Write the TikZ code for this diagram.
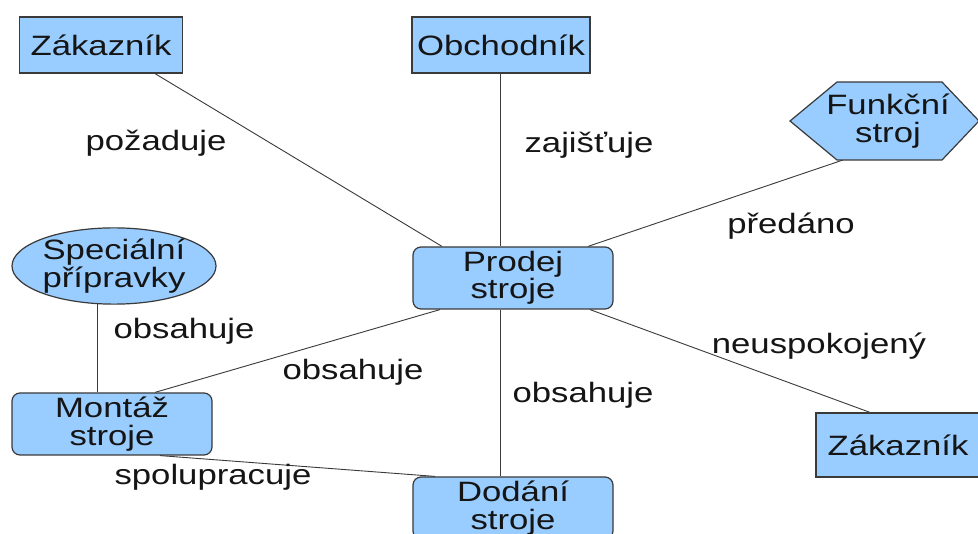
\documentclass[tikz,border=0pt]{standalone}
\usepackage{fontspec}
\setmainfont{Liberation Sans}
\usepackage{graphicx}
\usetikzlibrary{shapes.geometric}
\pgfdeclarelayer{background}
\pgfsetlayers{background,main}
\definecolor{boxfill}{HTML}{99CCFF}
\definecolor{boxline}{HTML}{3A3A3A}
\definecolor{txt}{HTML}{151515}
% wide, Arial-like lettering
\newcommand\wtxt[1]{\scalebox{1.24}[1]{#1}}
\begin{document}
\begin{tikzpicture}[x=1pt,y=-1pt,
  lettering/.style={font=\fontsize{28}{27.5}\selectfont, text=txt},
  shape base/.style={lettering, draw=boxline, fill=boxfill, line width=1.2pt,
                     inner sep=0pt, align=center},
  plainbox/.style={shape base, rectangle},
  roundbox/.style={shape base, rectangle, rounded corners=8pt,
                   minimum width=200pt, minimum height=62pt},
  ovalbox/.style={shape base, ellipse},
  rel/.style={lettering, inner sep=0pt},
  link/.style={draw=boxline, line width=0.9pt}]
\clip (0,0) rectangle (978,534);

% entities
\node[plainbox, minimum width=163pt, minimum height=56pt] (zak1) at (101,45) {\wtxt{Zákazník}};
\node[plainbox, minimum width=178pt, minimum height=56pt] (obch) at (501,45) {\wtxt{Obchodník}};
\draw[draw=boxline, fill=boxfill, line width=1.2pt]
  (790,121) -- (837,82) -- (942,82) -- (979,121) -- (942,160) -- (837,160) -- cycle;
\node[lettering, align=center, inner sep=0pt] (funk) at (888,121) {\wtxt{Funkční}\\\wtxt{stroj}};
\coordinate (funkb) at (843,160);
\node[roundbox] (prodej) at (513,278) {\wtxt{Prodej}\\\wtxt{stroje}};
\node[ovalbox, minimum width=204pt, minimum height=73pt] (spec) at (114,266) {\wtxt{Speciální}\\\wtxt{přípravky}};
\node[roundbox] (mont) at (112,424) {\wtxt{Montáž}\\\wtxt{stroje}};
\node[roundbox] (dod) at (513,508) {\wtxt{Dodání}\\\wtxt{stroje}};
\node[plainbox, minimum width=164pt, minimum height=64pt] (zak2) at (898,445) {\wtxt{Zákazník}};

% relationship names
\node[rel] (l1) at (156,143) {\wtxt{požaduje}};
\node[rel] (l2) at (589,145) {\wtxt{zajišťuje}};
\node[rel] (l3) at (791,226) {\wtxt{předáno}};
\node[rel] (l4) at (184,331) {\wtxt{obsahuje}};
\node[rel] (l5) at (353,372) {\wtxt{obsahuje}};
\node[rel] (l6) at (583,395) {\wtxt{obsahuje}};
\node[rel] (l7) at (819,346) {\wtxt{neuspokojený}};
\node[rel] (l8) at (213,477) {\wtxt{spolupracuje}};

% connectors, kept behind the shapes
\begin{pgfonlayer}{background}
\fill[white] (0,0) rectangle (978,534);
\draw[link] ([xshift=54pt]zak1.south) -- ([xshift=-71pt]prodej.north);
\draw[link] ([xshift=-1pt]obch.south) -- ([xshift=-1pt]obch.south |- prodej.north);
\draw[link] (funkb) -- ([xshift=75pt]prodej.north);
\draw[link] ([xshift=-15pt]mont.north) -- ([xshift=-15pt]mont.north |- spec.center);
\draw[link] ([xshift=-73pt]prodej.south) -- ([xshift=43pt]mont.north);
\draw[link] ([xshift=-13pt]prodej.south) -- ([xshift=-13pt]dod.north);
\draw[link] ([xshift=77pt]prodej.south) -- ([xshift=-28pt]zak2.north);
\draw[link] ([xshift=48pt]mont.south) -- ([xshift=-78pt]dod.north);
\end{pgfonlayer}
\end{tikzpicture}
\end{document}
